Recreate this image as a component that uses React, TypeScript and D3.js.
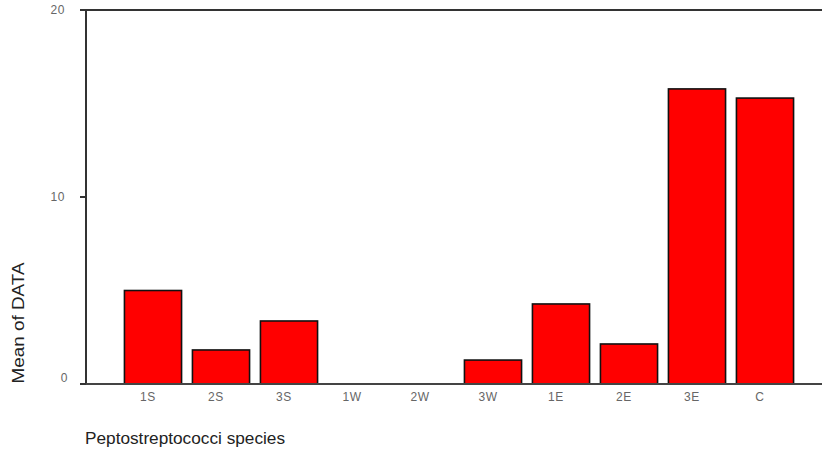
import * as d3 from 'd3';
import { useEffect, useRef } from 'react';

const categories = ['1S', '2S', '3S', '1W', '2W', '3W', '1E', '2E', '3E', 'C'];
const means = [5.0, 1.82, 3.37, 0, 0, 1.28, 4.28, 2.14, 15.78, 15.29];
const yTicks = [0, 10, 20];

const App = () => {
  const svgRef = useRef<SVGSVGElement | null>(null);
  const width = 822, height = 450;
  const axisX = 86, topY = 10, baseY = 384;

  useEffect(() => {
    const svg = d3.select(svgRef.current);
    svg.selectAll('*').remove();

    const x = d3.scaleBand<string>()
      .domain(categories)
      .range([119, 799])
      .paddingInner(0.16)
      .paddingOuter(0.08);
    const y = d3.scaleLinear().domain([0, 20]).range([baseY, topY]);

    const font = 'Liberation Sans, Arial, sans-serif';

    // bars
    svg.append('g').selectAll('rect')
      .data(categories.map((c, i) => ({ c, v: means[i] })).filter(d => d.v > 0))
      .join('rect')
      .attr('x', d => x(d.c)!)
      .attr('y', d => y(d.v))
      .attr('width', x.bandwidth())
      .attr('height', d => baseY - y(d.v))
      .attr('fill', '#ff0000')
      .attr('stroke', '#111')
      .attr('stroke-width', 1.6);

    // frame lines + y ticks
    svg.append('line').attr('x1', axisX).attr('x2', axisX).attr('y1', topY).attr('y2', baseY)
      .attr('stroke', '#333').attr('stroke-width', 2);
    svg.append('line').attr('x1', 80).attr('x2', width).attr('y1', topY).attr('y2', topY)
      .attr('stroke', '#333').attr('stroke-width', 2);
    svg.append('line').attr('x1', 80).attr('x2', width).attr('y1', baseY).attr('y2', baseY)
      .attr('stroke', '#444').attr('stroke-width', 2);
    svg.append('g').selectAll('line')
      .data(yTicks)
      .join('line')
      .attr('x1', 80).attr('x2', axisX)
      .attr('y1', d => y(d)).attr('y2', d => y(d))
      .attr('stroke', '#333').attr('stroke-width', 2);

    // y tick labels
    svg.append('g').selectAll('text')
      .data(yTicks)
      .join('text')
      .attr('x', d => (d === 0 ? 68 : 65))
      .attr('y', d => y(d) + (d === 0 ? -2 : 4))
      .attr('text-anchor', 'end')
      .attr('font-family', font)
      .attr('font-size', 12)
      .attr('letter-spacing', 0.6)
      .attr('fill', '#666')
      .text(d => d);

    // x tick labels
    svg.append('g').selectAll('text')
      .data(categories)
      .join('text')
      .attr('x', d => x(d)! + x.bandwidth() / 2 - 5)
      .attr('y', 401)
      .attr('text-anchor', 'middle')
      .attr('font-family', font)
      .attr('font-size', 12)
      .attr('letter-spacing', 0.6)
      .attr('fill', '#666')
      .text(d => d);

    // axis titles
    svg.append('text')
      .attr('transform', `translate(24,${(262 + 384) / 2}) rotate(-90)`)
      .attr('text-anchor', 'middle')
      .attr('font-family', font)
      .attr('font-size', 16)
      .attr('textLength', 121)
      .attr('lengthAdjust', 'spacingAndGlyphs')
      .attr('fill', '#222')
      .text('Mean of DATA');
    svg.append('text')
      .attr('x', 85)
      .attr('y', 444)
      .attr('font-family', font)
      .attr('font-size', 16)
      .attr('textLength', 200)
      .attr('lengthAdjust', 'spacingAndGlyphs')
      .attr('fill', '#222')
      .text('Peptostreptococci species');
  }, []);

  return (
    <svg ref={svgRef} width={width} height={height}
      style={{ position: 'absolute', left: 0, top: 0, background: '#fff' }} />
  );
};

export default App;
